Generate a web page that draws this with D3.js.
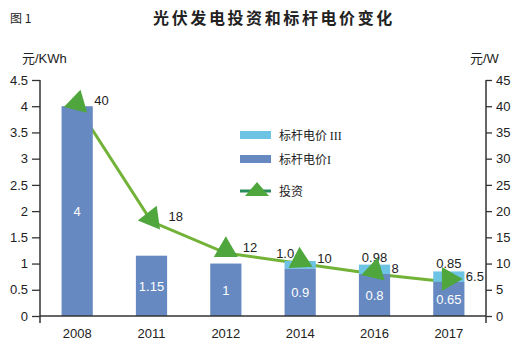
<!DOCTYPE html>
<html><head><meta charset="utf-8">
<script src="https://cdn.jsdelivr.net/npm/d3@7"></script>
<style>
body{margin:0;background:#fff;}
text{font-family:"Liberation Sans",Arial,"Noto Sans CJK SC",sans-serif;}
</style></head>
<body><svg id="c" width="520" height="350"></svg>
<script>
const years = ["2008","2011","2012","2014","2016","2017"];
const priceI = [4, 1.15, 1, 0.9, 0.8, 0.65];
const priceIII = [null, null, null, 1.05, 0.98, 0.85];
const priceIIILabels = ["", "", "", "1.0", "0.98", "0.85"];
const invest = [40, 18, 12, 10, 8, 6.5];
const markerAngles = [14, 22, 0, -3, 13, 90];
const leftTicks = [0,0.5,1,1.5,2,2.5,3,3.5,4,4.5];
const rightTicks = [0,5,10,15,20,25,30,35,40,45];

const svg = d3.select("#c");
const x = d3.scaleBand().domain(years).range([40,486]).paddingInner(0.58).paddingOuter(0.29);
const yL = d3.scaleLinear().domain([0,4.5]).range([316,80]);
const yR = d3.scaleLinear().domain([0,45]).range([316,80]);
const cx = d => x(d) + x.bandwidth()/2;

const cDark = "#6689c1", cLight = "#6cc3e3", cLine = "#72b236", cTri = "#4ea63c";

// title
svg.append("text").attr("x",10).attr("y",23).attr("font-size",12).attr("fill","#222")
  .style("font-family","'Noto Sans CJK SC',sans-serif").text("图 1");
svg.append("text").attr("x",274).attr("y",24).attr("text-anchor","middle")
  .attr("font-size",16).attr("font-weight","bold").attr("letter-spacing",2.6).attr("fill","#222")
  .style("font-family","'Noto Sans CJK SC',sans-serif").text("光伏发电投资和标杆电价变化");
svg.append("text").attr("x",22).attr("y",63).attr("font-size",13).attr("fill","#222").text("元/KWh");
svg.append("text").attr("x",470).attr("y",63).attr("font-size",13).attr("fill","#222").text("元/W");

// axes
const gl = svg.append("g").attr("transform","translate(40,0)")
  .call(d3.axisLeft(yL).tickValues(leftTicks).tickFormat(d=>d).tickSize(8).tickSizeOuter(0).tickPadding(4));
const gr = svg.append("g").attr("transform","translate(486,0)")
  .call(d3.axisRight(yR).tickValues(rightTicks).tickFormat(d=>d).tickSize(6).tickSizeOuter(0).tickPadding(4));
[gl,gr].forEach(g=>{
  g.selectAll("text").attr("font-size",13).attr("fill","#222").style("font-family","'Liberation Sans',Arial,sans-serif");
  g.selectAll("line").attr("stroke","#333").attr("stroke-width",1.3);
  g.select(".domain").remove();
});
svg.append("line").attr("x1",40).attr("x2",40).attr("y1",yL(4.5)).attr("y2",323).attr("stroke","#333").attr("stroke-width",1.5);
svg.append("line").attr("x1",486).attr("x2",486).attr("y1",yR(45)).attr("y2",323).attr("stroke","#333").attr("stroke-width",1.5);

const gb = svg.append("g").attr("transform","translate(0,316)")
  .call(d3.axisBottom(x).tickSize(0).tickPadding(13));
gb.select(".domain").remove();
gb.selectAll("text").attr("font-size",13).attr("fill","#222").style("font-family","'Liberation Sans',Arial,sans-serif");

// line behind bars
const line = d3.line().x((d,i)=>cx(years[i])).y(d=>yR(d));
svg.append("path").datum(invest).attr("d",line).attr("fill","none").attr("stroke",cLine).attr("stroke-width",3);

// bars
years.forEach((yr,i)=>{
  if(priceIII[i]!=null){
    svg.append("rect").attr("x",x(yr)).attr("width",x.bandwidth())
      .attr("y",yL(priceIII[i])).attr("height",yL(priceI[i])-yL(priceIII[i])).attr("fill",cLight);
  }
  svg.append("rect").attr("x",x(yr)).attr("width",x.bandwidth())
    .attr("y",yL(priceI[i])).attr("height",yL(0)-yL(priceI[i])).attr("fill",cDark);
});
svg.append("line").attr("x1",40).attr("x2",486).attr("y1",316).attr("y2",316).attr("stroke","#333").attr("stroke-width",1.5);

// bar labels
years.forEach((yr,i)=>{
  svg.append("text").attr("x",cx(yr)).attr("y",yL(priceI[i]/2)+5).attr("text-anchor","middle")
    .attr("font-size",13).attr("fill","#fff").text(priceI[i]);
  if(priceIII[i]!=null){
    const near = Math.abs(yR(invest[i]) - yL(priceIII[i])) < 6;
    svg.append("text").attr("x",cx(yr) - (near?15:0)).attr("y",yL(priceIII[i])-3).attr("text-anchor","middle")
      .attr("font-size",13).attr("fill","#222").text(priceIIILabels[i]);
  }
});

// markers
const tri = d3.symbol().type(d3.symbolTriangle).size(250);
invest.forEach((v,i)=>{
  svg.append("path").attr("d",tri())
    .attr("transform",`translate(${cx(years[i])},${yR(v)-3}) rotate(${markerAngles[i]})`)
    .attr("fill",cTri);
});
// line labels
invest.forEach((v,i)=>{
  svg.append("text").attr("x",cx(years[i])+17).attr("y",yR(v)-1).attr("font-size",13).attr("fill","#222").text(v);
});

// legend
const lg = svg.append("g");
lg.append("rect").attr("x",240).attr("y",131).attr("width",31).attr("height",8).attr("fill",cLight);
lg.append("rect").attr("x",240).attr("y",155).attr("width",31).attr("height",8).attr("fill",cDark);
lg.append("line").attr("x1",240).attr("x2",271).attr("y1",191).attr("y2",191).attr("stroke","#2a8c5a").attr("stroke-width",3);
lg.append("path").attr("d","M245,196L257,182L269,196Z").attr("fill",cTri);
const lt1 = lg.append("text").attr("x",279).attr("y",140).attr("font-size",12).attr("fill","#222");
lt1.append("tspan").style("font-family","'Noto Sans CJK SC',sans-serif").text("标杆电价 ");
lt1.append("tspan").style("font-family","'Liberation Serif',serif").text("III");
const lt2 = lg.append("text").attr("x",279).attr("y",164).attr("font-size",12).attr("fill","#222");
lt2.append("tspan").style("font-family","'Noto Sans CJK SC',sans-serif").text("标杆电价");
lt2.append("tspan").style("font-family","'Liberation Serif',serif").text("I");
lg.append("text").attr("x",279).attr("y",196).attr("font-size",12).attr("fill","#222")
  .style("font-family","'Noto Sans CJK SC',sans-serif").text("投资");
</script></body></html>
